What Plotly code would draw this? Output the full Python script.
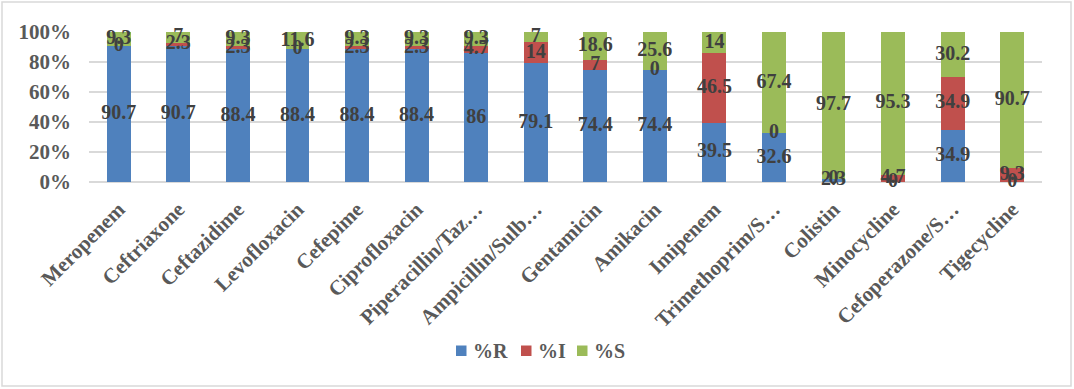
import plotly.graph_objects as go

categories = ["Meropenem", "Ceftriaxone", "Ceftazidime", "Levofloxacin", "Cefepime",
              "Ciprofloxacin", "Piperacillin/Taz…", "Ampicillin/Sulb…", "Gentamicin",
              "Amikacin", "Imipenem", "Trimethoprim/S…", "Colistin", "Minocycline",
              "Cefoperazone/S…", "Tigecycline"]
pct_R = [90.7, 90.7, 88.4, 88.4, 88.4, 88.4, 86, 79.1, 74.4, 74.4, 39.5, 32.6, 2.3, 0, 34.9, 0]
pct_I = [0, 2.3, 2.3, 0, 2.3, 2.3, 4.7, 14, 7, 0, 46.5, 0, 0, 4.7, 34.9, 9.3]
pct_S = [9.3, 7, 9.3, 11.6, 9.3, 9.3, 9.3, 7, 18.6, 25.6, 14, 67.4, 97.7, 95.3, 30.2, 90.7]
y_ticks = [0, 20, 40, 60, 80, 100]
y_tick_labels = ["0%", "20%", "40%", "60%", "80%", "100%"]
series_names = ["%R", "%I", "%S"]
series_colors = ["#4F81BD", "#C0504D", "#9BBB59"]
series_values = [pct_R, pct_I, pct_S]

FONT = "Liberation Serif"
W, H = 1074, 389
L, R, T, B = 89, 32, 32, 207
PW, PH = W - L - R, H - T - B


def px_x(px):
    return (px - L) / PW


def px_y(py):
    return (H - B - py) / PH


fig = go.Figure()
base = [0.0] * len(categories)
for name, vals, color in zip(series_names, series_values, series_colors):
    fig.add_trace(go.Bar(x=categories, y=vals, name=name, marker_color=color,
                         marker_line_width=0, width=0.4, showlegend=False))
    mids = [b + v / 2 for b, v in zip(base, vals)]
    fig.add_trace(go.Scatter(x=categories, y=mids, mode="text",
                             text=[f"{v:g}" for v in vals], showlegend=False,
                             textfont=dict(family=FONT, size=20, color="#404040",
                                           weight="bold"),
                             hoverinfo="skip", cliponaxis=False))
    base = [b + v for b, v in zip(base, vals)]

# manual legend (compact spacing as in the reference)
shapes = [dict(type="rect", xref="paper", yref="paper",
               x0=px_x(2), x1=px_x(1071), y0=px_y(386), y1=px_y(2),
               line=dict(color="#D9D9D9", width=1.5), fillcolor="rgba(0,0,0,0)")]
annotations = []
legend_x = [456, 521, 577]
for lx, name, color in zip(legend_x, series_names, series_colors):
    shapes.append(dict(type="rect", xref="paper", yref="paper",
                       x0=px_x(lx), x1=px_x(lx + 10.5), y0=px_y(356), y1=px_y(345.5),
                       line=dict(width=0), fillcolor=color))
    annotations.append(dict(xref="paper", yref="paper", x=px_x(lx + 15), y=px_y(351),
                            xanchor="left", yanchor="middle", showarrow=False, text=name,
                            font=dict(family=FONT, size=20, color="#595959", weight="bold")))

fig.update_layout(
    barmode="stack",
    width=W, height=H,
    margin=dict(l=L, r=R, t=T, b=B),
    plot_bgcolor="white", paper_bgcolor="white",
    font=dict(family=FONT, size=20, color="#595959"),
    showlegend=False,
    xaxis=dict(tickangle=-45, showgrid=False, showline=False, ticks="", automargin=False,
               range=[-0.5, len(categories) - 0.5], ticklabelstandoff=10,
               tickfont=dict(family=FONT, size=21, color="#595959", weight="bold")),
    yaxis=dict(range=[0, 100], tickmode="array", tickvals=y_ticks, ticktext=y_tick_labels,
               showgrid=True, gridcolor="#D9D9D9", gridwidth=1.5, zeroline=True,
               zerolinecolor="#D9D9D9", zerolinewidth=1.5, showline=False,
               ticklabelstandoff=17, automargin=False,
               tickfont=dict(family=FONT, size=21, color="#595959", weight="bold")),
    shapes=shapes,
    annotations=annotations,
)

fig.write_html("out.html", config={"displayModeBar": False},
               post_script="document.body.style.margin='0';")
